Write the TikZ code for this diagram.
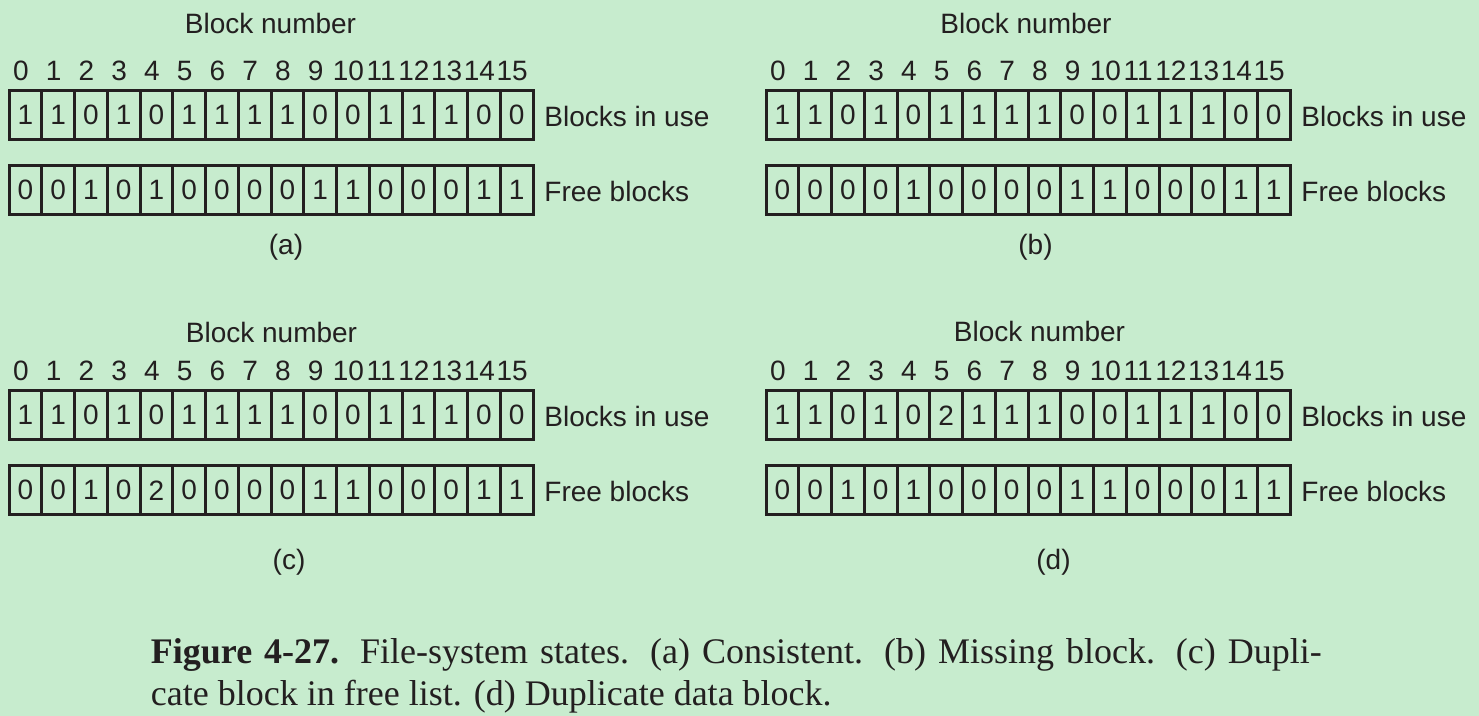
\documentclass[tikz,border=0pt]{standalone}
\usepackage{fontspec}
\setmainfont{Liberation Serif}
\newfontfamily\labelfont{Liberation Sans}
\definecolor{bg}{RGB}{199,236,206}
\definecolor{ink}{RGB}{35,31,32}
\newcommand\bitrowdraw[4]{% #1 prefix, #2 x0, #3 top, #4 values
  \foreach \v [count=\i from 0] in {#4} {
    \node[cellbox] (#1\i) at ({#2+\i*32.75}, #3) {\v};
  }
}
\newcommand\numrowdraw[3]{% #1 prefix, #2 x0, #3 baseline
  \foreach \i in {0,...,15} {
    \node[numlbl] (#1\i) at ({#2+(\i+0.5)*32.75-4.5}, #3) {\i};
  }
}
\begin{document}
\begin{tikzpicture}[x=0.5pt,y=-0.5pt,
  sansfont/.style={font=\labelfont\fontsize{14}{16}\selectfont, text=ink},
  cellbox/.style={sansfont, draw=ink, line width=1.5pt, minimum width=16.375pt,
    minimum height=24.65pt, inner sep=0pt, outer sep=0pt, anchor=north west},
  numlbl/.style={sansfont, anchor=base, inner sep=0pt},
  rowlbl/.style={sansfont, anchor=base west, inner sep=0pt},
  toplbl/.style={sansfont, anchor=base, inner sep=0pt},
  caption/.style={font=\fontsize{18}{21}\selectfont, text=ink, anchor=base west, inner sep=0pt}
]
\fill[bg] (0,0) rectangle (1479,716);
\useasboundingbox (0,0) rectangle (1479,716);

% ---------- (a)
\node[toplbl] (atitle) at (270.5,33.3) {Block number};
\numrowdraw{an}{9}{81}
\bitrowdraw{au}{9}{90.7}{1,1,0,1,0,1,1,1,1,0,0,1,1,1,0,0}
\bitrowdraw{af}{9}{165.7}{0,0,1,0,1,0,0,0,0,1,1,0,0,0,1,1}
\node[rowlbl] (aul) at (544,126.7) {Blocks in use};
\node[rowlbl] (afl) at (544,201.7) {Free blocks};
\node[toplbl] (acap) at (286,255) {(a)};

% ---------- (b)
\node[toplbl] (btitle) at (1026,33.3) {Block number};
\numrowdraw{bn}{766}{81}
\bitrowdraw{bu}{766}{90.7}{1,1,0,1,0,1,1,1,1,0,0,1,1,1,0,0}
\bitrowdraw{bf}{766}{165.7}{0,0,0,0,1,0,0,0,0,1,1,0,0,0,1,1}
\node[rowlbl] (bul) at (1301,126.7) {Blocks in use};
\node[rowlbl] (bfl) at (1301,201.7) {Free blocks};
\node[toplbl] (bcap) at (1035.5,255) {(b)};

% ---------- (c)
\node[toplbl] (ctitle) at (271.5,342.3) {Block number};
\numrowdraw{cn}{9}{381}
\bitrowdraw{cu}{9}{390.7}{1,1,0,1,0,1,1,1,1,0,0,1,1,1,0,0}
\bitrowdraw{cf}{9}{465.7}{0,0,1,0,2,0,0,0,0,1,1,0,0,0,1,1}
\node[rowlbl] (cul) at (544,426.7) {Blocks in use};
\node[rowlbl] (cfl) at (544,501.7) {Free blocks};
\node[toplbl] (ccap) at (289,570) {(c)};

% ---------- (d)
\node[toplbl] (dtitle) at (1039.5,341.7) {Block number};
\numrowdraw{dn}{766}{381}
\bitrowdraw{du}{766}{390.7}{1,1,0,1,0,2,1,1,1,0,0,1,1,1,0,0}
\bitrowdraw{df}{766}{465.7}{0,0,1,0,1,0,0,0,0,1,1,0,0,0,1,1}
\node[rowlbl] (dul) at (1301,426.7) {Blocks in use};
\node[rowlbl] (dfl) at (1301,501.7) {Free blocks};
\node[toplbl] (dcap) at (1053.5,570) {(d)};

% ---------- caption
\node[caption] (cap1) at (150.5,663) {\makebox[585.5pt][s]{\textbf{Figure 4-27.} File-system states. (a) Consistent. (b) Missing block. (c) Dupli-}};
\node[caption] (cap2) at (150.5,705) {cate block in free list. (d) Duplicate data block.};
\end{tikzpicture}
\end{document}
